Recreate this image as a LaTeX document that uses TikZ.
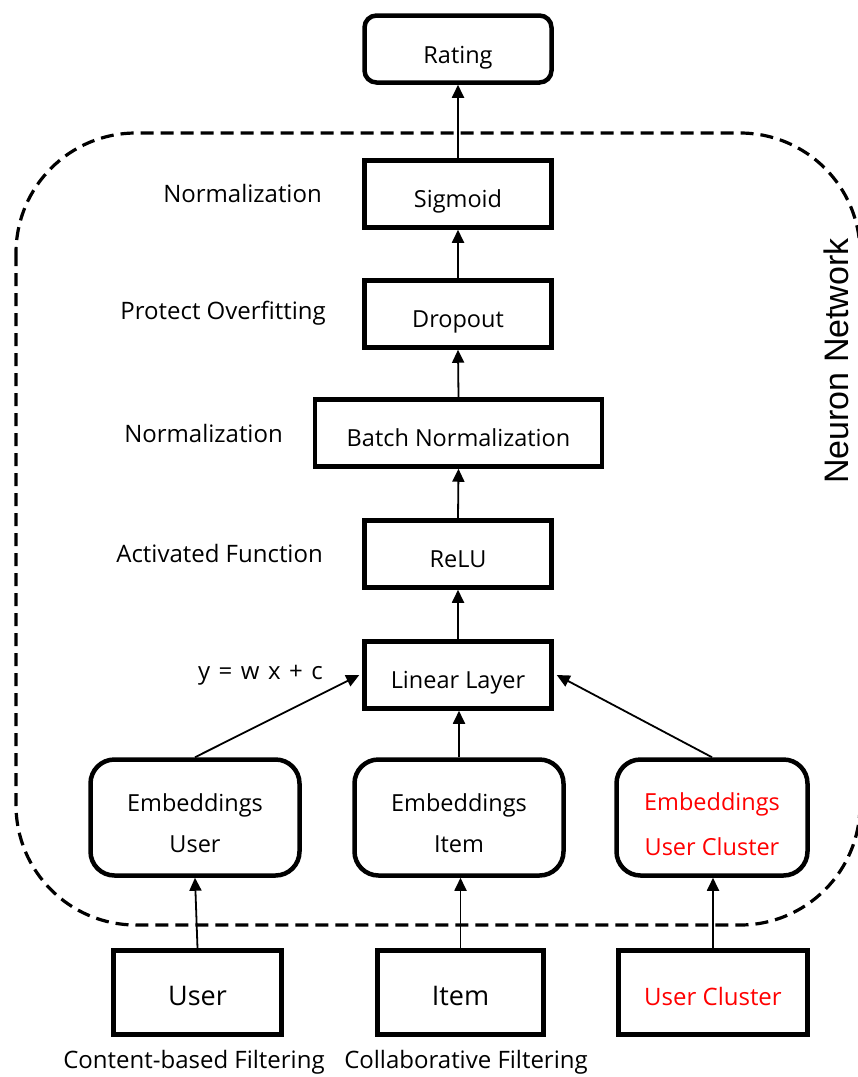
\documentclass[tikz,border=0pt]{standalone}
\usepackage{fontspec}
\setmainfont{Open Sans}
\newfontfamily\labelfont{Liberation Sans}
\usetikzlibrary{arrows.meta}
\definecolor{hired}{RGB}{255,0,0}
\begin{document}
\begin{tikzpicture}[x=1pt,y=-1pt,
  layerbox/.style={draw, line width=4.5pt, minimum width=#1, minimum height=67pt,
    inner sep=0pt, text height=27pt, text depth=1pt,
    font=\fontsize{23.5}{28}\selectfont},
  layerbox/.default=187pt,
  embbox/.style={draw, line width=4.5pt, rounded corners=24pt, minimum width=#1,
    minimum height=116pt, inner sep=0pt, align=center, text height=70pt, text depth=1pt,
    font=\fontsize{23.5}{41}\selectfont},
  inbox/.style={draw, line width=4.5pt, minimum width=#1, minimum height=84pt,
    inner sep=0pt, text height=27pt, text depth=1pt,
    font=\fontsize{27}{30}\selectfont},
  side/.style={anchor=east, inner sep=0pt, font=\fontsize{24}{28}\selectfont},
  foot/.style={inner sep=0pt, font=\fontsize{24}{28}\selectfont},
  arr/.style={line width=1.8pt, -{Triangle[length=13pt,width=12pt]}},
  region/.style={draw, line width=3.2pt, dash pattern=on 13pt off 7pt, rounded corners=120pt}
]
\useasboundingbox (0,0) rectangle (858,1077);

% dashed frame around the network layers
\draw[region] (16,133) rectangle (860,925);
\node[rotate=90, inner sep=0pt, font=\labelfont\fontsize{34}{38}\selectfont] (nn) at (836,361) {Neuron Network};

% stacked layers
\node[layerbox, rounded corners=12pt, text height=30pt] (rating) at (458,49) {Rating};
\node[layerbox] (sig) at (458,194) {Sigmoid};
\node[layerbox] (drop) at (458,314) {Dropout};
\node[layerbox=287pt] (bn) at (458.5,433) {Batch Normalization};
\node[layerbox] (relu) at (458,554) {ReLU};
\node[layerbox] (lin) at (458,675) {Linear Layer};

% embeddings
\node[embbox=209pt] (eu) at (195,817.5) {Embeddings\\User};
\node[embbox=209pt] (ei) at (459,817.5) {Embeddings\\Item};
\node[embbox=191pt, text=hired, text height=77pt, text depth=1pt,
  font=\fontsize{23.5}{45}\selectfont] (ec) at (712,817.5) {Embeddings\\User Cluster};

% inputs
\node[inbox=168pt] (u) at (197.5,992.5) {User};
\node[inbox=166pt] (it) at (460.5,992.5) {Item};
\node[inbox=189pt, text=hired, font=\fontsize{24}{28}\selectfont] (uc) at (713,992.5) {User Cluster};

% side annotations
\node[side] (l1) at (322,193) {Normalization};
\node[side] (l2) at (326,313) {Protect Overfitting};
\node[side] (l3) at (283,433) {Normalization};
\node[side] (l4) at (323,553) {Activated Function};
\node[side] (l5) at (323,675) {\spaceskip=8.5pt y = w x + c};
\node[foot] (f1) at (194,1062) {Content-based Filtering};
\node[foot] (f2) at (466,1062) {Collaborative Filtering};

% connectors
\draw[arr] (sig.north) -- (rating.south);
\draw[arr] (drop.north) -- (sig.south);
\draw[arr] (bn.north) -- (drop.south);
\draw[arr] (relu.north) -- (bn.south);
\draw[arr] (lin.north) -- (relu.south);
\draw[arr] (eu.north) -- ([xshift=-3pt]lin.west);
\draw[arr] (ei.north) -- (ei.north |- lin.south);
\draw[arr] (ec.north) -- ([xshift=3pt]lin.east);
\draw[arr] (u.north) -- (eu.south);
\draw[arr] (it.north) -- (it.north |- ei.south);
\draw[arr] (uc.north) -- (uc.north |- ec.south);
\end{tikzpicture}
\end{document}
